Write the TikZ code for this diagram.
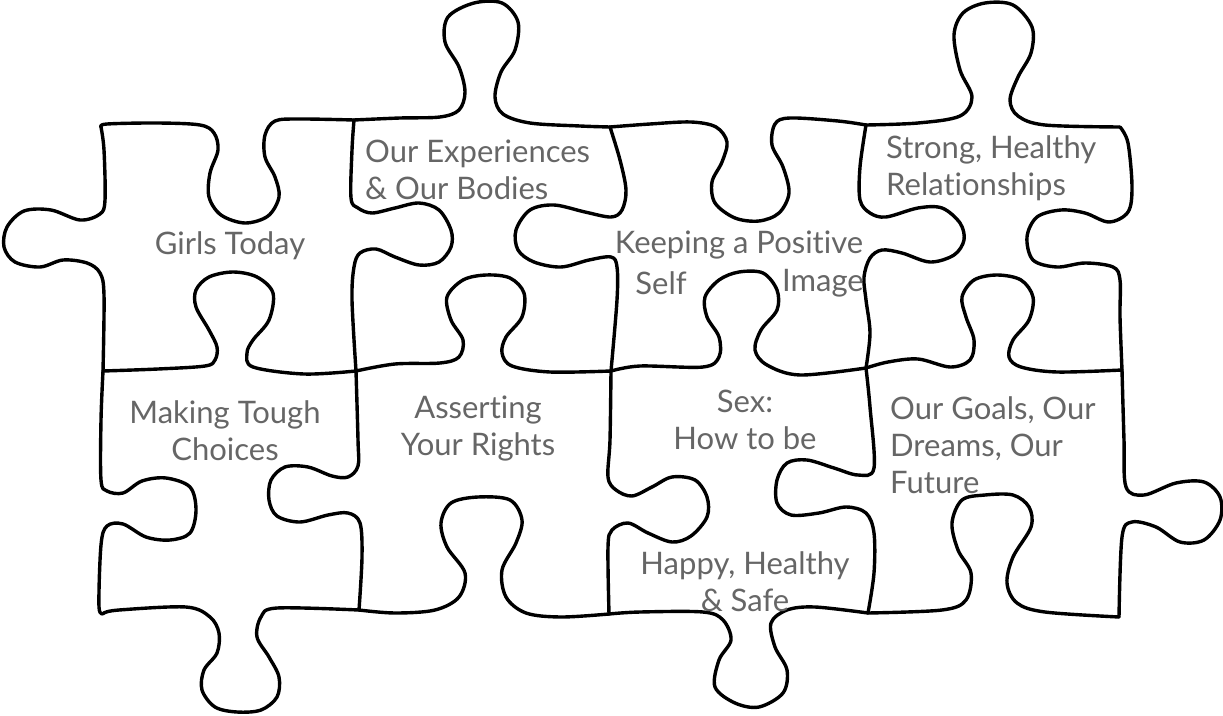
\documentclass[tikz,border=0pt]{standalone}
\usepackage{fontspec}
\setmainfont{Lato}[Ligatures={NoCommon}]
\definecolor{textgray}{RGB}{102,102,102}
\begin{document}
\begin{tikzpicture}[x=1pt,y=-1pt,
  pz/.style={draw=black, line width=3.4pt, line join=round, line cap=round},
  lbl/.style={text=textgray, font=\fontsize{31}{37}\selectfont, inner sep=0pt}]
\useasboundingbox (0,0) rectangle (1223,715);
% ---- top outer edge
\draw[pz] plot[smooth, tension=0.55] coordinates {(101,127) (107,124) (158,123) (200,125) (214,133) (218,150) (210,173) (209,197) (221,215) (245,223) (268,216) (279,197) (275,177) (265,157) (265,135) (275,121) (300,119) (354,120)};
\draw[pz] plot[smooth, tension=0.55] coordinates {(354,120) (400,118) (440,117) (459,110) (465,92) (459,67) (445,42) (448,17) (474,3) (502,3) (518,22) (515,50) (501,72) (495,97) (503,114) (530,123) (580,126) (610,127)};
\draw[pz] plot[smooth, tension=0.55] coordinates {(610,127) (650,124) (691,122) (716,127) (727,142) (722,162) (712,182) (715,203) (735,218) (759,221) (779,213) (789,193) (783,167) (772,145) (775,124) (790,118) (838,121) (866,125)};
\draw[pz] plot[smooth, tension=0.55] coordinates {(866,125) (918,123) (960,116) (972,97) (960,70) (954,35) (963,13) (985,3) (1013,5) (1032,27) (1031,53) (1018,77) (1010,100) (1018,116) (1045,125) (1120,127)};
% ---- row 1 verticals
\draw[pz] plot[smooth, tension=0.55] coordinates {(101,127) (104,150) (105,200) (100,214) (80,220) (51,210) (24,211) (7,227) (4,247) (15,262) (40,267) (63,260) (87,263) (100,273) (104,295) (103,371)};
\draw[pz] plot[smooth, tension=0.55] coordinates {(354,120) (352,150) (351,198) (358,208) (372,213) (395,208) (419,203) (439,210) (451,230) (451,247) (439,262) (419,265) (395,257) (376,249) (360,253) (354,267) (352,300) (356,371)};
\draw[pz] plot[smooth, tension=0.55] coordinates {(610,127) (620,160) (626,190) (622,210) (611,217) (585,212) (554,205) (530,210) (516,230) (518,250) (534,262) (561,267) (589,260) (611,257) (617,267) (617,300) (611,371)};
\draw[pz] plot[smooth, tension=0.55] coordinates {(866,125) (860,167) (860,200) (870,213) (886,217) (918,208) (942,208) (960,223) (964,240) (954,255) (930,262) (902,253) (882,250) (870,258) (864,277) (866,300) (870,333) (866,368)};
\draw[pz] plot[smooth, tension=0.55] coordinates {(1120,127) (1128,143) (1132,187) (1128,212) (1109,222) (1085,213) (1061,210) (1037,217) (1027,237) (1033,260) (1057,267) (1085,263) (1113,267) (1120,280) (1120,317) (1122,370)};
% ---- middle horizontals
\draw[pz] plot[smooth, tension=0.55] coordinates {(103,371) (158,369) (205,366) (215,360) (217,347) (209,330) (196,307) (196,290) (209,277) (233,272) (257,277) (273,293) (269,320) (253,340) (247,353) (253,367) (304,374) (356,371)};
\draw[pz] plot[smooth, tension=0.55] coordinates {(356,371) (395,364) (440,363) (459,357) (463,340) (451,320) (447,297) (463,280) (486,275) (510,278) (524,293) (522,317) (506,337) (502,353) (512,366) (550,372) (611,371)};
\draw[pz] plot[smooth, tension=0.55] coordinates {(611,371) (640,366) (703,367) (719,357) (719,337) (707,317) (705,297) (719,280) (739,272) (763,273) (777,290) (777,310) (761,330) (755,350) (767,365) (800,375) (866,368)};
\draw[pz] plot[smooth, tension=0.55] coordinates {(866,368) (888,362) (918,359) (950,367) (970,360) (974,340) (966,317) (962,297) (974,280) (997,275) (1021,280) (1033,297) (1029,320) (1013,340) (1009,357) (1021,367) (1057,372) (1122,370)};
% ---- row 2 verticals
\draw[pz] plot[smooth, tension=0.55] coordinates {(103,371) (101,420) (101,480) (107,491) (123,493) (142,481) (166,478) (190,487) (196,510) (190,533) (170,540) (146,537) (123,524) (107,526) (101,545) (99,607) (104,613)};
\draw[pz] plot[smooth, tension=0.55] coordinates {(356,371) (358,440) (358,466) (348,477) (332,476) (308,467) (285,467) (271,480) (269,500) (277,516) (300,522) (328,515) (348,513) (360,523) (362,557) (359,610)};
\draw[pz] plot[smooth, tension=0.55] coordinates {(611,371) (610,440) (608,477) (616,490) (632,496) (652,487) (672,477) (695,480) (707,497) (707,517) (691,536) (672,542) (648,533) (628,523) (612,530) (608,547) (609,614)};
\draw[pz] plot[smooth, tension=0.55] coordinates {(866,368) (870,407) (874,468) (858,475) (834,468) (807,460) (787,463) (777,480) (777,503) (791,515) (819,513) (846,507) (866,513) (874,533) (874,573) (868,613)};
\draw[pz] plot[smooth, tension=0.55] coordinates {(1122,370) (1124,440) (1126,487) (1144,495) (1176,483) (1204,482) (1220,497) (1220,520) (1204,540) (1180,542) (1156,527) (1132,522) (1122,537) (1119,617)};
% ---- bottom outer edge
\draw[pz] plot[smooth, tension=0.55] coordinates {(104,613) (119,610) (186,607) (210,617) (219,633) (217,653) (204,670) (202,690) (215,707) (237,712) (261,710) (277,697) (279,677) (269,657) (257,637) (261,617) (277,608) (359,610)};
\draw[pz] plot[smooth, tension=0.55] coordinates {(359,610) (395,613) (435,610) (459,597) (465,573) (447,547) (441,523) (451,503) (478,497) (510,500) (522,520) (516,543) (502,570) (506,597) (526,613) (561,617) (609,614)};
\draw[pz] plot[smooth, tension=0.55] coordinates {(609,614) (640,612) (703,612) (723,620) (731,640) (719,660) (715,687) (735,703) (759,707) (783,693) (787,670) (775,647) (771,623) (787,610) (815,607) (868,613)};
\draw[pz] plot[smooth, tension=0.55] coordinates {(868,613) (942,610) (966,600) (971,573) (958,550) (952,523) (962,500) (985,495) (1013,495) (1029,507) (1031,527) (1013,557) (1007,583) (1017,603) (1045,612) (1119,617)};
% ---- labels
\node[lbl] (girls) at (230,246) {Girls Today};
\node[lbl, anchor=west, align=left] (exper) at (365,170) {Our Experiences\\\& Our Bodies};
\node[lbl] (keep) at (739,245) {Keeping a Positive};
\node[lbl] (self) at (661,283) {Self};
\node[lbl] (image) at (823,283) {Image};
\node[lbl, anchor=west, align=left] (strong) at (886,168) {Strong, Healthy\\Relationships};
\node[lbl, align=center] (making) at (225,431) {Making Tough\\Choices};
\node[lbl, align=center] (assert) at (478,429) {Asserting\\Your Rights};
\node[lbl, align=center] (sex) at (745,420) {Sex:\\How to be};
\node[lbl, align=center] (happy) at (745,582) {Happy, Healthy\\\& Safe};
\node[lbl, anchor=west, align=left] (goals) at (890,445) {Our Goals, Our\\Dreams, Our\\Future};
\end{tikzpicture}
\end{document}
